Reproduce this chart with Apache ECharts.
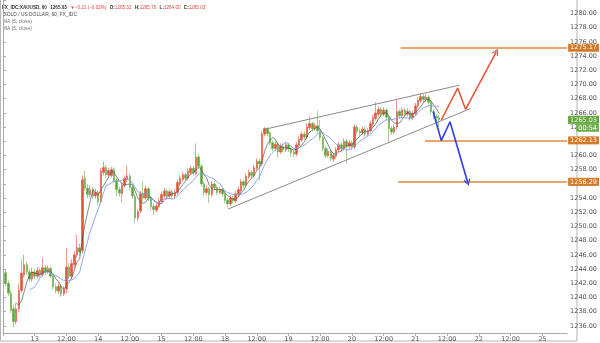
<!DOCTYPE html>
<html>
<head>
<meta charset="utf-8">
<script src="https://cdn.jsdelivr.net/npm/echarts@6/dist/echarts.min.js"></script>
<style>html,body{margin:0;padding:0;background:#fff}#c{width:600px;height:343px}</style>
</head>
<body>
<div id="c"></div>
<script>
// x-axis day labels (every 24 hourly slots), "12:00" in between
const days = ['13', '14', '15', '18', '19', '20', '21', '22', '25'];
const noonLabel = '12:00';

// hourly candles [open, close, low, high]
const day12 = [
  [1243.5,1242.0,1241.6,1244.0],[1242.0,1240.6,1240.2,1242.4],[1240.6,1238.2,1237.8,1241.0],
  [1238.4,1236.6,1235.8,1239.0],[1236.6,1238.4,1236.2,1239.2],[1238.4,1241.0,1238.0,1242.0],
  [1241.0,1243.4,1240.6,1245.2],[1243.2,1244.6,1242.8,1246.0],[1244.6,1243.6,1243.2,1245.0],
  [1243.6,1242.6,1242.2,1244.0],[1242.6,1243.6,1242.2,1244.2]
];
const day13 = [
  [1243.6,1243.0,1242.6,1244.0],[1243.0,1243.8,1242.7,1244.3],[1243.8,1243.2,1242.8,1244.2],
  [1243.2,1244.2,1242.9,1245.6],[1244.2,1243.6,1243.2,1244.6],[1243.6,1244.1,1243.3,1244.5],
  [1244.1,1243.0,1242.7,1244.4],[1243.0,1241.5,1241.1,1243.3],[1241.5,1241.0,1240.6,1242.0],
  [1240.9,1241.6,1240.5,1242.0],[1241.6,1240.5,1240.1,1241.9],[1240.5,1241.2,1240.2,1241.6],
  [1241.2,1244.3,1240.6,1247.0],[1244.3,1243.0,1242.6,1244.8],[1243.0,1244.8,1242.7,1245.4],
  [1244.6,1246.0,1244.2,1246.6],[1246.0,1247.0,1245.6,1248.8],[1247.0,1246.4,1245.9,1247.6],
  [1246.6,1256.6,1246.2,1257.2],[1256.8,1255.4,1255.0,1257.9],[1255.4,1254.5,1254.0,1256.0],
  [1254.5,1255.2,1254.1,1255.8],[1255.2,1254.3,1253.9,1255.6],[1254.3,1254.8,1253.9,1255.3]
];
const day14 = [
  [1254.8,1253.5,1253.0,1255.1],[1253.5,1257.8,1253.2,1258.2],[1257.6,1258.3,1257.2,1259.2],
  [1258.3,1257.3,1256.9,1258.7],[1257.3,1257.9,1257.0,1258.3],[1257.2,1258.0,1256.9,1258.4],
  [1258.0,1256.5,1256.1,1258.3],[1256.5,1255.2,1254.3,1256.8],[1255.2,1254.7,1254.2,1255.6],
  [1254.6,1255.8,1253.4,1256.2],[1255.8,1256.8,1255.5,1257.2],[1256.6,1257.1,1256.2,1258.6],
  [1257.1,1255.5,1255.1,1257.4],[1255.5,1254.3,1253.9,1255.8],[1254.2,1251.2,1250.5,1254.5],
  [1251.2,1252.1,1250.8,1252.5],[1252.2,1254.6,1251.9,1255.0],[1254.6,1254.0,1253.6,1256.3],
  [1254.0,1255.3,1253.7,1255.8],[1255.3,1254.0,1253.6,1255.6],[1254.0,1252.8,1252.4,1254.3],
  [1252.8,1252.4,1251.6,1253.2],[1252.3,1252.9,1252.0,1253.3],[1252.8,1253.6,1252.5,1254.0]
];
const day15 = [
  [1253.5,1254.5,1253.2,1254.9],[1254.3,1255.0,1254.0,1255.4],[1255.0,1254.3,1253.9,1255.3],
  [1254.3,1254.9,1254.0,1255.3],[1254.9,1254.3,1253.9,1255.2],[1254.3,1254.8,1254.0,1255.2],
  [1254.8,1256.2,1254.5,1256.6],[1256.0,1256.8,1255.7,1257.2],[1256.6,1257.3,1256.3,1257.7],
  [1257.3,1256.8,1256.4,1257.6],[1256.8,1257.8,1256.5,1258.2],[1257.6,1258.2,1257.3,1258.6],
  [1258.2,1257.6,1257.2,1258.5],[1257.5,1259.8,1257.2,1261.7],[1259.8,1258.5,1258.1,1260.2],
  [1258.5,1256.0,1255.6,1258.8],[1256.0,1254.8,1254.3,1256.3],[1254.8,1255.3,1254.4,1255.8],
  [1255.3,1254.5,1253.3,1255.6],[1254.5,1256.0,1254.2,1256.4],[1256.0,1255.5,1255.1,1256.4],
  [1255.5,1254.8,1254.4,1255.8],[1254.8,1255.2,1254.5,1255.6],[1255.2,1254.6,1254.2,1255.5]
];
const day18 = [
  [1254.6,1253.7,1253.3,1255.0],[1253.7,1253.2,1252.7,1254.0],[1253.2,1254.0,1252.9,1254.4],
  [1254.0,1253.6,1253.2,1254.3],[1253.6,1254.6,1253.3,1255.0],[1254.5,1255.2,1254.2,1255.6],
  [1255.0,1256.3,1254.7,1256.7],[1256.3,1255.8,1255.4,1256.6],[1255.8,1257.1,1255.5,1257.5],
  [1257.0,1257.6,1256.7,1258.0],[1257.6,1257.2,1256.8,1257.9],[1257.2,1258.3,1256.9,1258.7],
  [1258.2,1259.2,1257.9,1259.6],[1259.2,1258.8,1256.5,1259.6],[1258.8,1263.0,1258.5,1263.4],
  [1263.0,1263.8,1262.7,1264.0],[1263.8,1263.1,1262.7,1264.0],[1263.2,1261.8,1261.4,1263.4],
  [1261.8,1261.0,1260.6,1262.1],[1261.0,1261.6,1260.7,1262.0],[1261.6,1260.5,1259.7,1261.9],
  [1260.5,1261.3,1260.2,1261.7],[1261.3,1260.8,1260.4,1261.7],[1260.8,1261.5,1260.5,1261.9]
];
const day19 = [
  [1261.5,1260.9,1260.5,1261.8],[1260.9,1260.4,1259.8,1261.2],[1260.5,1260.2,1259.8,1260.8],
  [1260.2,1261.5,1259.9,1261.9],[1261.4,1262.3,1261.1,1262.7],[1262.2,1263.0,1261.9,1263.4],
  [1263.0,1262.6,1262.2,1263.4],[1262.6,1264.0,1262.3,1264.5],[1263.9,1264.5,1263.6,1265.5],
  [1264.5,1263.8,1263.4,1264.8],[1263.8,1264.2,1263.5,1264.6],[1264.2,1263.5,1263.1,1266.3],
  [1263.5,1262.5,1262.1,1265.0],[1262.5,1261.0,1260.6,1262.8],[1261.0,1260.0,1259.6,1261.3],
  [1260.0,1260.6,1259.7,1261.0],[1260.6,1259.6,1259.2,1260.9],[1259.5,1260.0,1259.1,1260.4],
  [1259.9,1260.8,1259.6,1261.2],[1260.8,1261.5,1260.5,1261.9],[1261.5,1261.0,1260.6,1261.8],
  [1261.0,1262.0,1260.7,1262.4],[1262.0,1261.3,1258.9,1262.3],[1261.3,1261.8,1261.0,1262.2]
];
const day20 = [
  [1261.8,1261.2,1260.8,1262.1],[1261.2,1264.0,1260.9,1264.4],[1264.0,1263.4,1263.0,1264.3],
  [1263.4,1263.2,1262.7,1263.8],[1263.2,1263.7,1262.9,1264.1],[1263.7,1263.0,1262.6,1264.0],
  [1263.0,1263.5,1262.7,1263.9],[1263.5,1264.5,1263.2,1264.9],[1264.4,1265.3,1264.1,1265.7],
  [1265.2,1266.0,1264.9,1267.5],[1265.8,1266.5,1265.5,1266.9],[1266.5,1265.8,1265.4,1266.8],
  [1265.8,1266.4,1265.5,1266.8],[1266.4,1265.4,1265.0,1266.7],[1265.4,1263.8,1261.7,1265.7],
  [1263.8,1263.3,1262.9,1264.2],[1263.3,1264.0,1263.0,1264.4],[1264.0,1266.2,1263.7,1267.8],
  [1266.2,1265.6,1265.2,1266.5],[1265.6,1266.4,1265.3,1266.8],[1266.4,1265.8,1265.4,1266.7],
  [1265.8,1266.2,1265.5,1266.6],[1266.2,1265.3,1264.9,1266.5],[1265.3,1265.9,1265.0,1266.3]
];
const day21 = [
  [1265.9,1267.0,1265.6,1267.4],[1267.0,1267.8,1266.7,1268.2],[1267.7,1268.3,1267.4,1268.8],
  [1268.3,1267.9,1267.5,1268.6],[1267.9,1268.2,1267.6,1268.6],[1268.2,1267.5,1267.1,1268.5],
  [1267.5,1266.2,1265.8,1267.8],[1266.2,1265.5,1265.1,1266.5],[1265.5,1265.3,1264.5,1265.8],
  [1265.32,1265.03,1264.00,1265.70]
];

// drawings in data coordinates [slot, price]
const wedgeUpper = [[99.1, 1263.7], [172.7, 1269.9]];
const wedgeLower = [[85.1, 1252.45], [176.8, 1266.6]];
const bullPath = [[165.8, 1265.0], [172.0, 1269.5], [175.0, 1266.5], [186.6, 1274.6]];
const bearPath = [[162.7, 1266.2], [165.8, 1262.1], [169.1, 1264.75], [175.8, 1256.2]];
const levelValues = [1275.17, 1262.13, 1256.29];
const levelStarts = [150.4, 159.6, 149.4];
const lastPrice = 1265.03;
const countdown = '00:54';

const X_MAX = 213.4;
const candles = [].concat(day12, day13, day14, day15, day18, day19, day20, day21);
const ohlc = candles.map((c, k) => [k + 1, c[0], c[1], c[2], c[3]]);
function sma(n) {
  const out = [];
  for (let k = n - 1; k < candles.length; k++) {
    let s = 0;
    for (let j = k - n + 1; j <= k; j++) s += candles[j][1];
    out.push([k + 1, +(s / n).toFixed(3)]);
  }
  return out;
}

const chevron = 'path://M5,0 L10,9 L8.6,10 L5,3.4 L1.4,10 L0,9 Z';
const orange = '#de8a45';
const labelOrange = '#d47a2a';
const FONT = 'Liberation Sans';

function pathSeries(name, pts, color) {
  const n = pts.length;
  return {
    name, type: 'line', data: pts.slice(0, n - 1), symbol: 'none', silent: true, z: 6,
    lineStyle: { color, width: 1.6 },
    markLine: {
      silent: true, symbol: ['none', chevron], symbolSize: [7, 7],
      lineStyle: { color, width: 1.6, type: 'solid' }, label: { show: false },
      data: [[{ coord: pts[n - 2] }, { coord: pts[n - 1] }]]
    }
  };
}

const levelLines = levelValues.map((v, k) => [
  { coord: [levelStarts[k], v], lineStyle: { color: orange, width: 1.5, type: 'solid' },
    label: { show: true, position: 'end', formatter: v.toFixed(2), color: '#fff', backgroundColor: labelOrange,
      fontSize: 6.5, padding: [1, 2, 0, 2], distance: 1, fontFamily: 'DejaVu Sans' } },
  { coord: [X_MAX, v] }
]);

const chart = echarts.init(document.getElementById('c'), null, { renderer: 'canvas' });
chart.setOption({
  animation: false,
  backgroundColor: '#fff',
  grid: { left: 0, right: 23, top: 0, bottom: 10, containLabel: false },
  xAxis: {
    type: 'value', min: 0, max: X_MAX, interval: 12,
    axisLine: { lineStyle: { color: '#aaa' } },
    axisTick: { show: true, length: 3, lineStyle: { color: '#aaa' } },
    splitLine: { show: false },
    axisLabel: {
      showMaxLabel: false, fontSize: 6.5, color: '#555', margin: 3, fontFamily: 'DejaVu Sans',
      formatter: v => {
        if (v <= 0 || v % 12 !== 0) return '';
        const k = (v - 12) / 24;
        return Number.isInteger(k) ? (days[k] || '') : noonLabel;
      }
    }
  },
  yAxis: {
    type: 'value', position: 'right', min: 1235, max: 1281.9, splitNumber: 23,
    axisLine: { show: true, lineStyle: { color: '#aaa' } },
    axisTick: { show: true, length: 3, lineStyle: { color: '#aaa' } },
    splitLine: { show: false },
    axisLabel: {
      fontSize: 6.5, color: '#555', margin: 3, fontFamily: 'DejaVu Sans',
      formatter: v => (Math.abs(v % 2) > 1e-6 ? '' : v.toFixed(2))
    }
  },
  graphic: [
    { type: 'rect', shape: { x: 0.5, y: -2, width: 576.5, height: 343 }, style: { fill: 'none', stroke: '#b5b5b5', lineWidth: 1 }, silent: true },
    { type: 'text', left: 2, top: 2, style: {
      text: '{k|FX_IDC:XAUUSD, 60} {v|1265.03} {r|▼−0.21 (−0.02%)} {k|O:}{r|1265.32} {k|H:}{r|1265.70} {k|L:}{r|1264.00} {k|C:}{r|1265.03}',
      rich: {
        k: { fontSize: 4.6, fontWeight: 'bold', fill: '#333', fontFamily: FONT },
        v: { fontSize: 4.6, fontWeight: 'bold', fill: '#333', fontFamily: FONT },
        r: { fontSize: 4.6, fill: '#d9453a', fontFamily: FONT }
      } } },
    { type: 'text', left: 3, top: 12.5, style: { text: 'GOLD / US DOLLAR, 60, FX_IDC', fontSize: 4.9, fill: '#444', fontFamily: FONT } },
    { type: 'text', left: 3, top: 19.5, style: { text: 'MA (5, close)', fontSize: 4.9, fill: '#777', fontFamily: FONT } },
    { type: 'text', left: 3, top: 26.5, style: { text: 'MA (5, close)', fontSize: 4.9, fill: '#777', fontFamily: FONT } }
  ],
  series: [
    {
      name: 'XAUUSD', type: 'candlestick', data: ohlc, encode: { x: 0, y: [1, 2, 3, 4] },
      barWidth: 2, z: 2,
      itemStyle: { color: '#e2553a', color0: '#5aa336', borderColor: '#e2553a', borderColor0: '#6aae48', borderWidth: 0.6 },
      markLine: {
        silent: true, symbol: ['none', 'none'], animation: false,
        data: levelLines.concat([[
          { coord: [X_MAX - 1, lastPrice], lineStyle: { width: 0, color: 'rgba(0,0,0,0)' },
            label: { show: true, position: 'end', distance: 1, padding: [8, 0, 0, 0],
              formatter: '{a|' + lastPrice.toFixed(2) + '}\n{b|' + countdown + '}',
              rich: {
                a: { backgroundColor: '#5fa63d', color: '#fff', fontSize: 6.5, padding: [1, 2, 0, 2], fontFamily: 'DejaVu Sans' },
                b: { backgroundColor: '#6db04c', color: '#fff', fontSize: 6.5, padding: [1, 2, 0, 2], fontFamily: 'DejaVu Sans', align: 'right' }
              } } },
          { coord: [X_MAX, lastPrice] }
        ]])
      }
    },
    { name: 'MA fast', type: 'line', data: sma(5), symbol: 'none', silent: true, z: 4, lineStyle: { color: '#555', width: 0.7 } },
    { name: 'MA slow', type: 'line', data: sma(10), symbol: 'none', silent: true, z: 4, lineStyle: { color: '#7f9de6', width: 0.9 } },
    { name: 'wedge upper', type: 'line', data: wedgeUpper, symbol: 'none', silent: true, z: 5, lineStyle: { color: '#8a8a8a', width: 1 } },
    { name: 'wedge lower', type: 'line', data: wedgeLower, symbol: 'none', silent: true, z: 5, lineStyle: { color: '#8a8a8a', width: 1 } },
    pathSeries('bull', bullPath, '#e4593a'),
    pathSeries('bear', bearPath, '#2e3cf2')
  ]
});
</script>
</body>
</html>
